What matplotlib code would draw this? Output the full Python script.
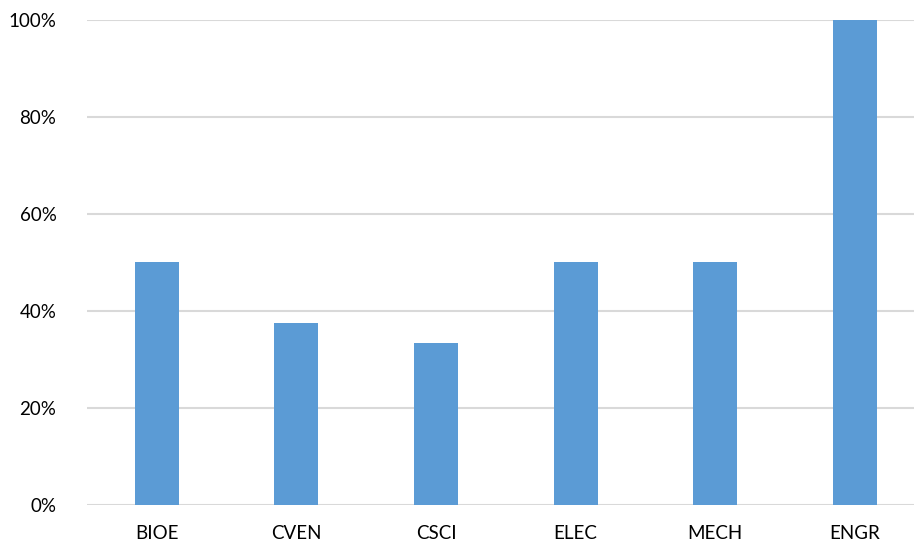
import matplotlib.pyplot as plt
from matplotlib.ticker import PercentFormatter

departments = ['BIOE', 'CVEN', 'CSCI', 'ELEC', 'MECH', 'ENGR']
shares = [0.50, 0.375, 0.333, 0.50, 0.50, 1.00]
y_ticks = [0, 0.2, 0.4, 0.6, 0.8, 1.0]

plt.rcParams['font.family'] = ['Lato', 'DejaVu Sans']


def main():
    fig = plt.figure(figsize=(9.14, 5.45), dpi=100)
    ax = fig.add_axes([87 / 914, 40.5 / 545, 827 / 914, 484.5 / 545])

    x = list(range(len(departments)))
    ax.bar(x, shares, width=0.315, color='#5B9BD5', zorder=3)

    ax.set_xlim(-0.5, 5.424)
    ax.set_ylim(0, 1.0)
    ax.set_yticks(y_ticks)
    ax.yaxis.set_major_formatter(PercentFormatter(1.0, decimals=0))
    ax.set_xticks(x)
    ax.set_xticklabels(departments)

    ax.grid(axis='y', color='#D9D9D9', linewidth=1.5, zorder=0)
    for s in ax.spines.values():
        s.set_visible(False)
    ax.tick_params(length=0, labelsize=13.5, colors='#000000')
    ax.tick_params(axis='y', pad=22)
    ax.tick_params(axis='x', pad=15)

    fig.savefig('out.png', dpi=100)


if __name__ == '__main__':
    main()
